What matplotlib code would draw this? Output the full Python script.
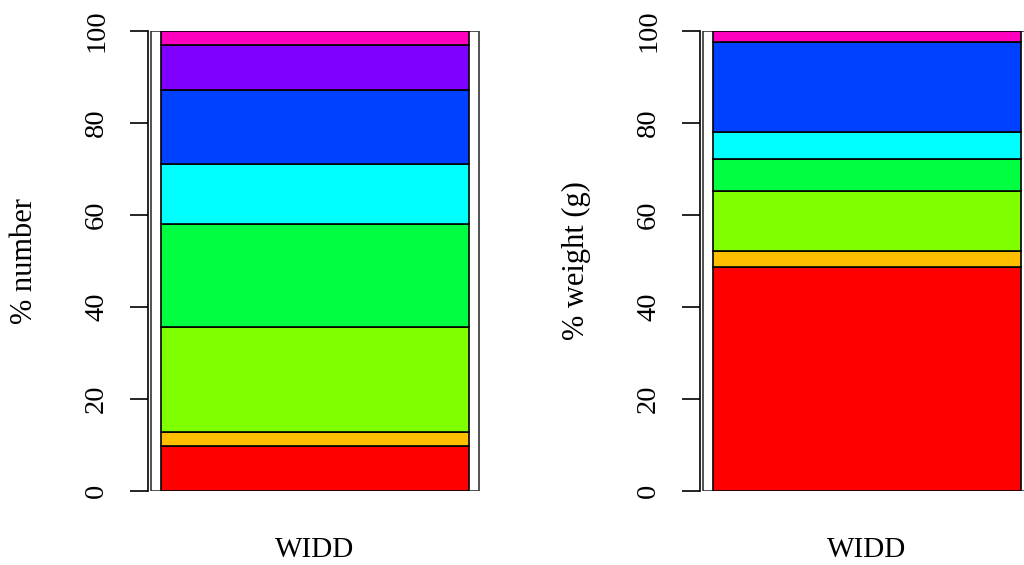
import matplotlib
matplotlib.use('Agg')
import matplotlib.pyplot as plt

plt.rcParams['font.family'] = ['Liberation Serif', 'DejaVu Serif']

site = ['WIDD']
# R rainbow(8), bottom to top
colours = ['#FF0000', '#FFBF00', '#80FF00', '#00FF40',
           '#00FFFF', '#0040FF', '#8000FF', '#FF00BF']
pct_number = [9.8, 3.1, 22.7, 22.4, 13.1, 16.1, 9.8, 3.0]
pct_weight = [48.7, 3.4, 13.1, 6.9, 5.9, 19.7, 0.0, 2.3]
yticks = [0, 20, 40, 60, 80, 100]

fig = plt.figure(figsize=(10.24, 5.65), dpi=100)
ax_n = fig.add_axes([0.14453, 0.1310, 0.3315, 0.81416])
ax_w = fig.add_axes([0.68359, 0.1310, 0.3315, 0.81416])


def stack(ax, vals, ylab):
    # white frame bar behind the coloured stack
    ax.bar(0, 100, width=1.065, color='white', edgecolor='#333333', linewidth=1.2, zorder=1)
    bottom = 0
    for v, c in zip(vals, colours):
        ax.bar(0, v, bottom=bottom, width=1.0, color=c, edgecolor='black', linewidth=1.2, zorder=2)
        bottom += v
    ax.set_xlim(-0.542, 0.56)
    ax.set_ylim(0, 100)
    for s in ['top', 'right', 'bottom']:
        ax.spines[s].set_visible(False)
    ax.spines['left'].set_bounds(0, 100)
    ax.spines['left'].set_linewidth(1.2)
    ax.set_yticks(yticks)
    ax.set_yticklabels([str(t) for t in yticks], rotation=90, va='center', fontsize=20.5)
    ax.tick_params(axis='y', length=13, width=1.2, pad=15)
    ax.set_xticks([0])
    ax.set_xticklabels(site, fontsize=21)
    ax.tick_params(axis='x', length=0, pad=33)
    ax.set_ylabel(ylab, fontsize=22)
    ax.yaxis.set_label_coords(-0.321, 0.5)


stack(ax_n, pct_number, '% number')
stack(ax_w, pct_weight, '% weight (g)')

fig.savefig('out.png', dpi=100)
